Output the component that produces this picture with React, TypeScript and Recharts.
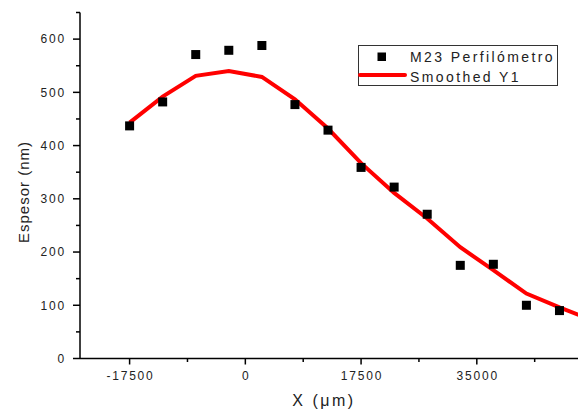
import { ComposedChart, Line, Scatter, XAxis, YAxis, Legend } from 'recharts'

// measured thickness profile (Perfilómetro) and the smoothed curve
const positions = [-17500, -12500, -7500, -2500, 2500, 7500, 12500, 17500, 22500, 27500, 32500, 37500, 42500, 47500]
const measured = [437, 482, 571, 579, 588, 477, 429, 359, 322, 271, 175, 177, 100, 90]
const smoothPositions = [-17500, -12500, -7500, -2500, 2500, 7500, 12500, 17500, 22500, 27500, 32500, 37500, 42500, 47500, 52500]
const smoothed = [443, 492, 531, 540, 529, 487, 432, 367, 311, 263, 209, 166, 122, 96, 72]

const xTicks = [-17500, -8750, 0, 8750, 17500, 26250, 35000, 43750]
const yTicks = [0, 50, 100, 150, 200, 250, 300, 350, 400, 450, 500, 550, 600, 650]

const scatterName = 'M23 Perfilómetro'
const lineName = 'Smoothed Y1'

const points = positions.map((x, i) => ({ x, y: measured[i] }))
const curve = smoothPositions.map((x, i) => ({ x, y: smoothed[i] }))

const FONT = '"Liberation Sans", Arial, sans-serif'
const TEXT = '#222'

function XTick(props: any) {
  const { x, y, payload } = props
  const major = payload.value % 17500 === 0
  return (
    <g>
      <line x1={x} x2={x} y1={y} y2={y + (major ? 6 : 3.5)} stroke="#000" strokeWidth={1.5} />
      {major && (
        <text x={x + 0.9} y={y + 21.5} textAnchor="middle" fontSize={12} letterSpacing={1.8} fill={TEXT} fontFamily={FONT}>
          {payload.value}
        </text>
      )}
    </g>
  )
}

function YTick(props: any) {
  const { x, y, payload } = props
  const major = payload.value % 100 === 0
  return (
    <g>
      <line x1={x} x2={x - (major ? 7 : 4)} y1={y} y2={y} stroke="#000" strokeWidth={1.5} />
      {major && (
        <text x={x - 14} y={y + 4.3} textAnchor="end" fontSize={12} letterSpacing={1.8} fill={TEXT} fontFamily={FONT}>
          {payload.value}
        </text>
      )}
    </g>
  )
}

function LegendBox() {
  return (
    <svg width={200} height={41} style={{ display: 'block' }}>
      <rect x={0.5} y={0.5} width={199} height={40} fill="#fff" stroke="#333" strokeWidth={1} />
      <rect x={19.5} y={7.5} width={8.5} height={8.5} fill="#000" />
      <text x={52} y={17} fontSize={14} letterSpacing={2.4} fill={TEXT} fontFamily={FONT}>
        {scatterName}
      </text>
      <line x1={2} x2={47} y1={30} y2={30} stroke="#ff0000" strokeWidth={4} strokeLinecap="round" />
      <text x={52} y={37} fontSize={14} letterSpacing={2.4} fill={TEXT} fontFamily={FONT}>
        {lineName}
      </text>
    </svg>
  )
}

export default function App() {
  return (
    <div style={{ position: 'absolute', left: 0, top: 0, width: 579, height: 411, background: '#fff' }}>
      <ComposedChart
        width={579}
        height={411}
        margin={{ top: 12.5, right: 1, left: 0, bottom: 0 }}
        style={{ fontFamily: FONT }}
      >
        <XAxis
          type="number"
          dataKey="x"
          domain={[-25000, 50300]}
          allowDataOverflow
          ticks={xTicks}
          interval={0}
          height={52.5}
          tickSize={0}
          tickMargin={0}
          tickLine={false}
          tick={<XTick />}
          axisLine={{ stroke: '#000', strokeWidth: 1.5 }}
        />
        <YAxis
          type="number"
          dataKey="y"
          domain={[0, 650]}
          ticks={yTicks}
          interval={0}
          width={80}
          tickSize={0}
          tickMargin={0}
          tickLine={false}
          tick={<YTick />}
          axisLine={{ stroke: '#000', strokeWidth: 1.5 }}
        />
        <Legend
          layout="horizontal"
          verticalAlign="middle"
          align="center"
          content={() => <LegendBox />}
          wrapperStyle={{ position: 'absolute', left: 358, top: 45, width: 200, height: 41 }}
        />
        <Line
          data={curve}
          dataKey="y"
          name={lineName}
          type="linear"
          stroke="#ff0000"
          strokeWidth={4}
          dot={false}
          activeDot={false}
          isAnimationActive={false}
        />
        <Scatter
          data={points}
          name={scatterName}
          fill="#000"
          isAnimationActive={false}
          shape={(p: any) => <rect x={p.cx - 4.5} y={p.cy - 4.5} width={9} height={9} fill="#000" />}
        />
        <text x={324} y={406} textAnchor="middle" fontSize={16} letterSpacing={2.5} fill={TEXT} fontFamily={FONT}>
          X (μm)
        </text>
        <text
          x={29}
          y={192}
          transform="rotate(-90 29 192)"
          textAnchor="middle"
          fontSize={15}
          letterSpacing={1}
          fill={TEXT}
          fontFamily={FONT}
        >
          Espesor (nm)
        </text>
      </ComposedChart>
    </div>
  )
}
